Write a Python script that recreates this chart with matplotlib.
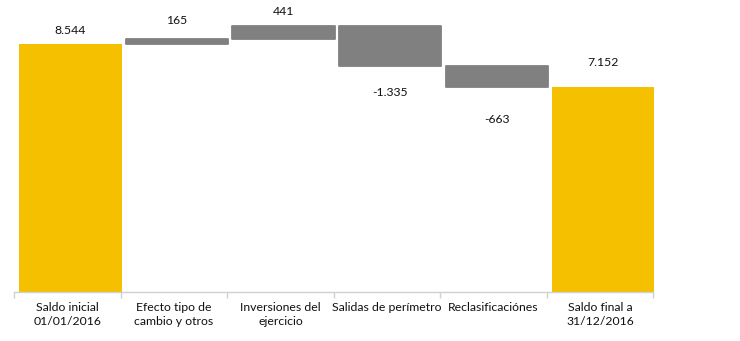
import matplotlib
matplotlib.use("Agg")
import matplotlib.pyplot as plt
import numpy as np

categories = ["Saldo inicial\n01/01/2016", "Efecto tipo de\ncambio y otros",
              "Inversiones del\nejercicio", "Salidas de perímetro",
              "Reclasificaciónes", "Saldo final a\n31/12/2016"]
changes = [8544, 165, 441, -1335, -663, 7152]
is_total = [True, False, False, False, False, True]
value_labels = ["8.544", "165", "441", "-1.335", "-663", "7.152"]

YELLOW = "#F4C000"
GREY = "#808080"

plt.rcParams["font.family"] = ["Lato", "DejaVu Sans"]

fig = plt.figure(figsize=(7.40, 3.41), dpi=100)
ax = fig.add_axes([14 / 740, 49 / 341, 639.5 / 740, 292 / 341])

# running totals for the floating bars
bottoms, heights = [], []
level = 0
for v, tot in zip(changes, is_total):
    if tot:
        bottoms.append(0)
        heights.append(v)
        level = v
    else:
        bottoms.append(level if v >= 0 else level + v)
        heights.append(abs(v))
        level += v

x = np.arange(len(categories))
shift = 0.03
colors = [YELLOW if t else GREY for t in is_total]
bars = ax.bar(x + shift, heights, bottom=bottoms, width=0.96, color=colors,
              edgecolor=["none" if t else GREY for t in is_total], linewidth=1.3)
for b, t in zip(bars, is_total):
    if not t:
        b.set_joinstyle("round")

ax.set_xlim(-0.5, len(categories) - 0.5)
ax.set_ylim(400, 10000)

# value labels: above rising/total bars, below falling bars
offsets = [10, 13.5, 10, -19, -23.5, 17.5]
for i, (lab, off) in enumerate(zip(value_labels, offsets)):
    if changes[i] >= 0:
        y = bottoms[i] + heights[i]
    else:
        y = bottoms[i]
    ax.annotate(lab, (i + shift, y), xytext=(0, off), textcoords="offset points",
                ha="center", va="center", fontsize=8.8, color="#111111")

for s in ["top", "right", "left"]:
    ax.spines[s].set_visible(False)
ax.spines["bottom"].set_color("#d0d0d0")
ax.spines["bottom"].set_linewidth(1.0)
ax.set_yticks([])

ax.set_xticks(x)
ax.set_xticklabels(categories, fontsize=8.8, color="#111111", linespacing=1.4)
ax.tick_params(axis="x", which="major", length=0, pad=7)
ax.set_xticks(np.arange(len(categories) + 1) - 0.5, minor=True)
ax.tick_params(axis="x", which="minor", length=4, color="#d0d0d0", width=1.0)

fig.savefig("out.png", dpi=100)
